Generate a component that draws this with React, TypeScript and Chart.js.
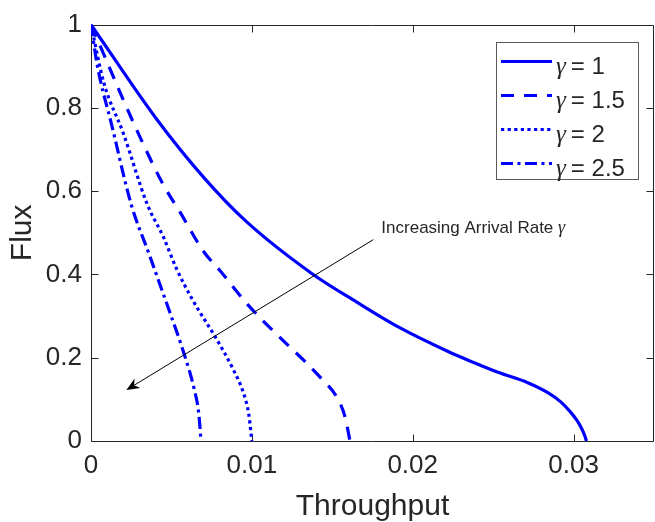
import React, { useEffect, useRef } from 'react';
import { Chart, registerables } from 'chart.js';

Chart.register(...registerables);

// ---- data ----
const seriesLabels = ['1', '1.5', '2', '2.5'];

const g1X = [0, 0.00406, 0.00703, 0.00963, 0.0137, 0.0165, 0.0191, 0.0222, 0.0237, 0.0253, 0.02715, 0.0284, 0.0292, 0.0298, 0.0302, 0.0305, 0.0307, 0.0308];
const g1Y = [1, 0.774, 0.632, 0.528, 0.403, 0.334, 0.274, 0.215, 0.19, 0.165, 0.14, 0.116, 0.094, 0.07, 0.05, 0.03, 0.012, 0];

const g15X = [0, 0.001, 0.002, 0.0032, 0.0045, 0.0055, 0.007, 0.008, 0.0098, 0.0119, 0.0133, 0.0143, 0.0153, 0.0158, 0.0161];
const g15Y = [1, 0.91, 0.82, 0.717, 0.615, 0.552, 0.455, 0.41, 0.325, 0.243, 0.191, 0.151, 0.104, 0.057, 0];

const g2X = [0, 0.0008, 0.002, 0.0035, 0.0045, 0.0053, 0.0063, 0.0078, 0.0088, 0.0095, 0.0098, 0.01];
const g2Y = [1, 0.86, 0.74, 0.568, 0.49, 0.415, 0.34, 0.245, 0.175, 0.113, 0.066, 0];

const g25X = [0, 0.0004, 0.0013, 0.0025, 0.0036, 0.0049, 0.0058, 0.0064, 0.0067, 0.00684];
const g25Y = [1, 0.9, 0.757, 0.568, 0.45, 0.309, 0.208, 0.127, 0.066, 0];

const xTicks = [0, 0.01, 0.02, 0.03];
const xTickLabels = ['0', '0.01', '0.02', '0.03'];
const yTicks = [0, 0.2, 0.4, 0.6, 0.8, 1];
const yTickLabels = ['0', '0.2', '0.4', '0.6', '0.8', '1'];

const annText = 'Increasing Arrival Rate';
const arrowTail = [0.01755, 0.4835];
const arrowHead = [0.0022, 0.1226];
const textAnchor = [0.01805, 0.5];

// ---- styles ----
const SANS = '"Liberation Sans", Arial, Helvetica, sans-serif';
const SERIF = '"Liberation Serif", "DejaVu Serif", serif';
const AXIS_COLOR = '#262626';
const BLUE = '#0000ff';
const dashes = [[], [13, 10], [3.2, 3.4], [12, 4.5, 3, 4.5]];

const boxPlugin = {
  id: 'matlabBox',
  beforeDatasetsDraw(chart: any) {
    const { ctx, chartArea, scales } = chart;
    const l = Math.round(chartArea.left) + 0.5;
    const r = Math.round(chartArea.right) - 0.5;
    const t = Math.round(chartArea.top) + 0.5;
    const b = Math.round(chartArea.bottom) + 0.5;
    const tl = 7;
    ctx.save();
    ctx.strokeStyle = AXIS_COLOR;
    ctx.lineWidth = 1;
    ctx.beginPath();
    ctx.rect(l, t, r - l, b - t);
    ctx.stroke();
    ctx.beginPath();
    xTicks.forEach((v) => {
      const px = Math.round(scales.x.getPixelForValue(v)) + 0.5;
      ctx.moveTo(px, b);
      ctx.lineTo(px, b - tl);
      ctx.moveTo(px, t);
      ctx.lineTo(px, t + tl);
    });
    yTicks.forEach((v) => {
      const py = Math.round(scales.y.getPixelForValue(v)) + 0.5;
      ctx.moveTo(l, py);
      ctx.lineTo(l + tl, py);
      ctx.moveTo(r, py);
      ctx.lineTo(r - tl, py);
    });
    ctx.stroke();
    ctx.restore();
  },
};

const annPlugin = {
  id: 'arrowAnn',
  afterDatasetsDraw(chart: any) {
    const { ctx, scales } = chart;
    const tx = scales.x.getPixelForValue(arrowTail[0]);
    const ty = scales.y.getPixelForValue(arrowTail[1]);
    const hx = scales.x.getPixelForValue(arrowHead[0]);
    const hy = scales.y.getPixelForValue(arrowHead[1]);
    const ang = Math.atan2(hy - ty, hx - tx);
    const ux = Math.cos(ang), uy = Math.sin(ang);
    const nx = -uy, ny = ux;
    const L = 13, W = 5.5, N = 9;
    ctx.save();
    ctx.strokeStyle = '#000';
    ctx.lineWidth = 1;
    ctx.beginPath();
    ctx.moveTo(tx, ty);
    ctx.lineTo(hx - ux * N, hy - uy * N);
    ctx.stroke();
    ctx.fillStyle = '#000';
    ctx.beginPath();
    ctx.moveTo(hx, hy);
    ctx.lineTo(hx - ux * L + nx * W, hy - uy * L + ny * W);
    ctx.lineTo(hx - ux * N, hy - uy * N);
    ctx.lineTo(hx - ux * L - nx * W, hy - uy * L - ny * W);
    ctx.closePath();
    ctx.fill();
    const px = scales.x.getPixelForValue(textAnchor[0]);
    const py = scales.y.getPixelForValue(textAnchor[1]);
    ctx.textAlign = 'left';
    ctx.textBaseline = 'alphabetic';
    ctx.fillStyle = AXIS_COLOR;
    ctx.font = '17px ' + SANS;
    ctx.fillText(annText + ' ', px, py);
    const w = ctx.measureText(annText + ' ').width;
    ctx.font = 'italic 18px ' + SERIF;
    ctx.fillText('γ', px + w, py);
    ctx.restore();
  },
};

const legendPlugin = {
  id: 'matlabLegend',
  afterDraw(chart: any) {
    const { ctx, chartArea } = chart;
    const w = 142, h = 137;
    const left = Math.round(chartArea.right) - 16 - w;
    const top = Math.round(chartArea.top) + 17;
    ctx.save();
    ctx.fillStyle = '#fff';
    ctx.fillRect(left, top, w, h);
    ctx.strokeStyle = '#5a5a5a';
    ctx.lineWidth = 1;
    ctx.strokeRect(left + 0.5, top + 0.5, w, h);
    chart.data.datasets.forEach((ds: any, i: number) => {
      const y = top + 19.5 + i * 34;
      ctx.beginPath();
      ctx.setLineDash(ds.borderDash || []);
      ctx.strokeStyle = ds.borderColor;
      ctx.lineWidth = ds.borderWidth;
      ctx.moveTo(left + 5, y);
      ctx.lineTo(left + 56, y);
      ctx.stroke();
      ctx.setLineDash([]);
      ctx.fillStyle = AXIS_COLOR;
      ctx.textAlign = 'left';
      ctx.textBaseline = 'alphabetic';
      ctx.font = 'italic 25px ' + SERIF;
      ctx.fillText('γ', left + 60, y + 12);
      const gw = ctx.measureText('γ').width;
      ctx.font = '24px ' + SANS;
      ctx.fillText('= ' + seriesLabels[i], left + 60 + gw + 5, y + 12);
    });
    ctx.restore();
  },
};

export default function App() {
  const ref = useRef<HTMLCanvasElement>(null);
  useEffect(() => {
    const canvas = ref.current;
    if (!canvas) return;
    const mk = (xs: number[], ys: number[]) => xs.map((x, i) => ({ x, y: ys[i] }));
    const raw = [
      mk(g1X, g1Y),
      mk(g15X, g15Y),
      mk(g2X, g2Y),
      mk(g25X, g25Y),
    ];
    const datasets = raw.map((data, i) => ({
      label: 'γ = ' + seriesLabels[i],
      data,
      showLine: true,
      borderColor: BLUE,
      backgroundColor: BLUE,
      borderWidth: 3.2,
      borderDash: dashes[i],
      pointRadius: 0,
      pointHoverRadius: 0,
      fill: false,
      cubicInterpolationMode: 'monotone' as const,
    }));
    const chart = new Chart(canvas, {
      type: 'scatter',
      data: { datasets },
      options: {
        animation: false,
        responsive: false,
        devicePixelRatio: 1,
        layout: { padding: { top: 17, right: 1, left: 0, bottom: 0 } },
        plugins: { legend: { display: false }, tooltip: { enabled: false } },
        scales: {
          x: {
            type: 'linear',
            min: 0,
            max: 0.035,
            afterBuildTicks: (s: any) => {
              s.ticks = xTicks.map((v) => ({ value: v }));
            },
            afterFit: (s: any) => {
              s.height = 81;
            },
            grid: { display: false, drawTicks: false },
            border: { display: false },
            ticks: {
              padding: 9,
              color: AXIS_COLOR,
              font: { family: SANS, size: 26 },
              maxRotation: 0,
              autoSkip: false,
              callback: (v: any) => {
                const i = xTicks.findIndex((t) => Math.abs(t - Number(v)) < 1e-9);
                return i >= 0 ? xTickLabels[i] : '';
              },
            },
            title: {
              display: true,
              text: 'Throughput',
              color: AXIS_COLOR,
              font: { family: SANS, size: 30, lineHeight: 1 },
              padding: { top: 0, bottom: 0 },
            },
          },
          y: {
            type: 'linear',
            min: 0,
            max: 1,
            afterBuildTicks: (s: any) => {
              s.ticks = yTicks.map((v) => ({ value: v }));
            },
            afterFit: (s: any) => {
              s.width = 91;
            },
            grid: { display: false, drawTicks: false },
            border: { display: false },
            ticks: {
              padding: 9,
              color: AXIS_COLOR,
              font: { family: SANS, size: 26 },
              autoSkip: false,
              callback: (v: any) => {
                const i = yTicks.findIndex((t) => Math.abs(t - Number(v)) < 1e-9);
                return i >= 0 ? yTickLabels[i] : '';
              },
            },
            title: {
              display: true,
              text: 'Flux',
              color: AXIS_COLOR,
              font: { family: SANS, size: 30, lineHeight: 1 },
              padding: { top: 8, bottom: 0 },
            },
          },
        },
      },
      plugins: [boxPlugin, annPlugin, legendPlugin],
    });
    return () => chart.destroy();
  }, []);
  return (
    <div style={{ position: 'absolute', left: 0, top: 0, width: 655, height: 522, background: '#fff' }}>
      <canvas ref={ref} width={655} height={522} style={{ display: 'block', width: 655, height: 522 }} />
    </div>
  );
}
